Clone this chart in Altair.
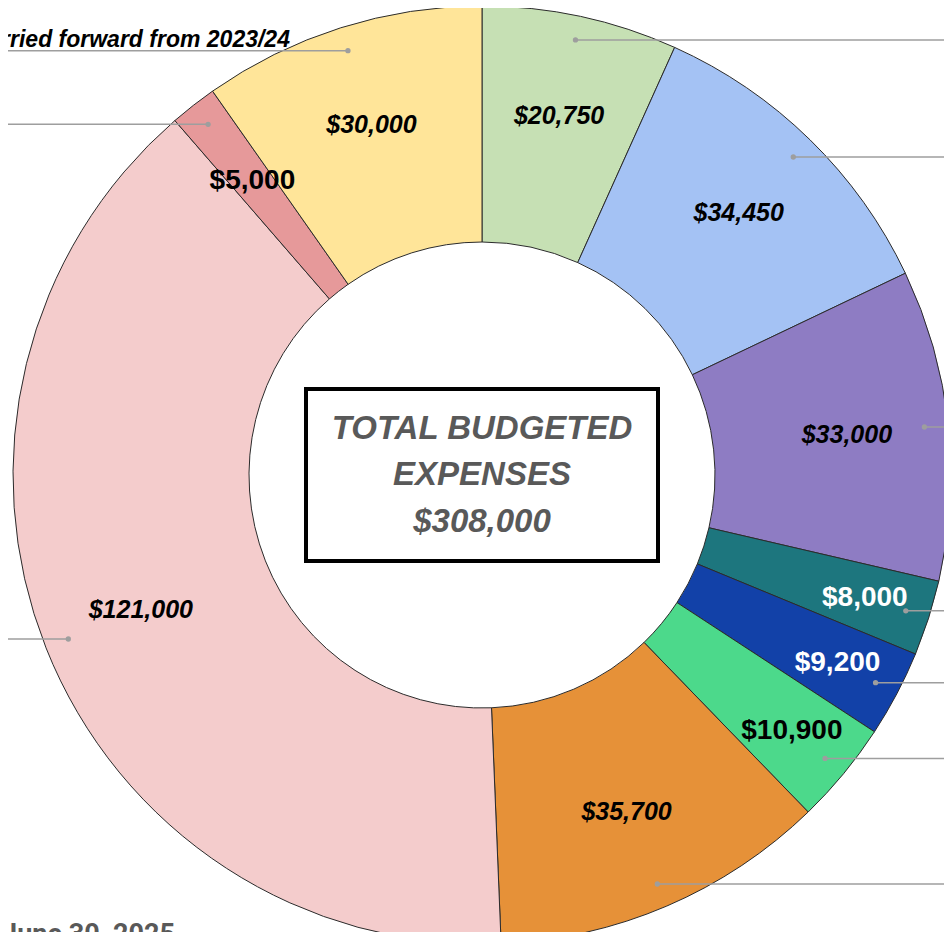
import altair as alt
import pandas as pd

# ---- data ----
slice_ids = ["s01", "s02", "s03", "s04", "s05", "s06", "s07", "s08", "s09", "s10"]
values = [20750, 34450, 33000, 8000, 9200, 10900, 35700, 121000, 5000, 30000]
value_labels = ["$20,750", "$34,450", "$33,000", "$8,000", "$9,200",
                "$10,900", "$35,700", "$121,000", "$5,000", "$30,000"]
leader_texts = ["", "", "", "", "", "", "", "", "", "carried forward from 2023/24"]
palette = ["#c6e0b4", "#a4c2f4", "#8e7cc3", "#1d767e", "#1241a8",
           "#4cd98b", "#e69138", "#f4cccc", "#e6999a", "#ffe599"]
center_lines = ["TOTAL BUDGETED", "EXPENSES", "$308,000"]
footer_text = ["June 30, 2025"]

# ---- layout constants ----
CX, CY = 474, 467
R_OUT, R_IN = 469, 233
W, H = 936, 924

df = pd.DataFrame({
    "idx": list(range(len(values))),
    "sid": slice_ids,
    "value": values,
    "vlabel": value_labels,
    "leader": leader_texts,
})

base = alt.Chart(df).transform_window(
    cum="sum(value)", sort=[alt.SortField("idx")], frame=[None, 0]
).transform_joinaggregate(
    total="sum(value)"
).transform_calculate(
    mid="(datum.cum - datum.value / 2) / datum.total * 2 * PI"
)

arcs = alt.Chart(df).mark_arc(
    outerRadius=R_OUT, innerRadius=R_IN, stroke="#2b2b2b", strokeWidth=1
).encode(
    theta=alt.Theta("value:Q", stack=True),
    order=alt.Order("idx:Q"),
    color=alt.Color("sid:N", scale=alt.Scale(domain=slice_ids, range=palette), legend=None),
    x=alt.value(CX),
    y=alt.value(CY),
)

pts = base.transform_calculate(
    px=f"{CX} + 445 * sin(datum.mid)",
    py=f"{CY} - 445 * cos(datum.mid)",
    ex=f"sin(datum.mid) >= 0 ? {W + 20} : -40",
)

lines = pts.mark_rule(color="#9e9e9e", strokeWidth=1.5).encode(
    x=alt.X("px:Q", scale=None, axis=None),
    x2="ex:Q",
    y=alt.Y("py:Q", scale=None, axis=None),
)

dots = pts.mark_circle(color="#9e9e9e", size=28, opacity=1).encode(
    x=alt.X("px:Q", scale=None, axis=None),
    y=alt.Y("py:Q", scale=None, axis=None),
)

leader_lbl = pts.transform_filter("datum.leader != ''").transform_calculate(
    tx="datum.px - 58", ty="datum.py - 4"
).mark_text(
    font="Liberation Sans", fontSize=23, fontWeight="bold", fontStyle="italic",
    align="right", baseline="alphabetic", color="black"
).encode(
    x=alt.X("tx:Q", scale=None, axis=None),
    y=alt.Y("ty:Q", scale=None, axis=None),
    text="leader:N",
)

big_lbl = base.transform_filter("datum.value >= 12000").transform_calculate(
    lx=f"{CX} + 367 * sin(datum.mid)",
    ly=f"{CY} - 367 * cos(datum.mid)",
).mark_text(
    font="Liberation Sans", fontSize=25, fontWeight="bold", fontStyle="italic",
    align="center", baseline="middle", color="black"
).encode(
    x=alt.X("lx:Q", scale=None, axis=None),
    y=alt.Y("ly:Q", scale=None, axis=None),
    text="vlabel:N",
)

small_lbl = base.transform_filter("datum.value < 12000").transform_calculate(
    lr="sin(datum.mid) < 0 ? 373 : 402",
).transform_calculate(
    lx=f"{CX} + datum.lr * sin(datum.mid)",
    ly=f"{CY} - datum.lr * cos(datum.mid)",
).mark_text(
    font="Liberation Sans", fontSize=28, fontWeight="bold",
    align="center", baseline="middle"
).encode(
    x=alt.X("lx:Q", scale=None, axis=None),
    y=alt.Y("ly:Q", scale=None, axis=None),
    text="vlabel:N",
    color=alt.condition("datum.idx == 3 || datum.idx == 4", alt.value("white"), alt.value("black")),
)

box = alt.Chart(pd.DataFrame({"k": [0]})).mark_rect(
    fill="white", stroke="black", strokeWidth=4
).encode(
    x=alt.value(CX - 176), x2=alt.value(CX + 176),
    y=alt.value(CY - 86), y2=alt.value(CY + 86),
)

center_df = pd.DataFrame({"line": center_lines, "row": [0, 1, 2]})
center_txt = alt.Chart(center_df).transform_calculate(
    ty=f"{CY} + (datum.row - 1) * 46.5"
).mark_text(
    font="Liberation Sans", fontSize=33, fontWeight="bold", fontStyle="italic",
    align="center", baseline="middle", color="#595959"
).encode(
    x=alt.value(CX),
    y=alt.Y("ty:Q", scale=None, axis=None),
    text="line:N",
)

footer = alt.Chart(pd.DataFrame({"t": footer_text})).mark_text(
    font="Roboto", fontSize=27, fontWeight="bold", align="right",
    baseline="alphabetic", color="#595959"
).encode(
    x=alt.value(167), y=alt.value(935), text="t:N",
)

chart = alt.layer(
    arcs, lines, dots, leader_lbl, big_lbl, small_lbl, box, center_txt, footer
).properties(
    width=W, height=H, autosize=alt.AutoSizeParams(type="none"), padding=0
).configure_view(stroke=None)

chart.save("out.html", embed_options={"renderer": "svg", "actions": False})
